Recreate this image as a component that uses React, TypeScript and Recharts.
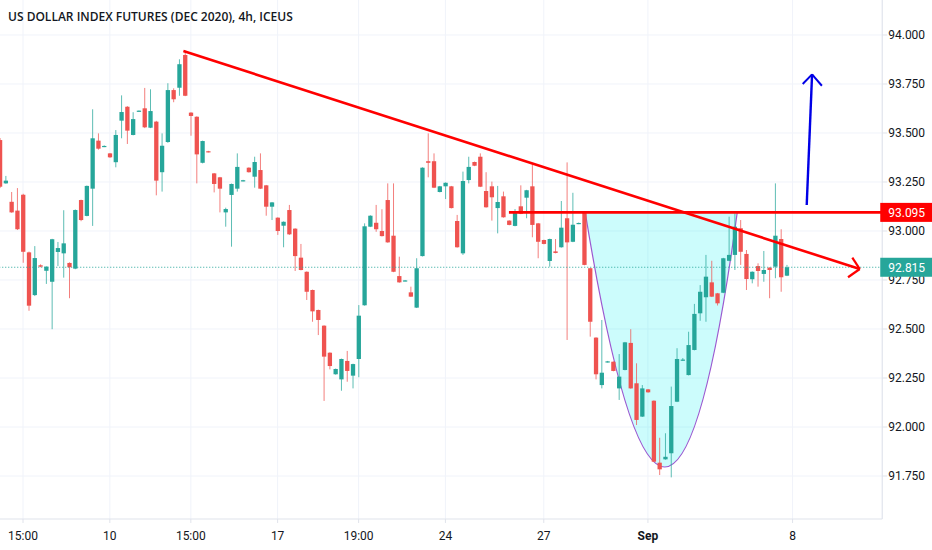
import React from 'react';
import {
  ComposedChart,
  Bar,
  XAxis,
  YAxis,
  CartesianGrid,
  ReferenceLine,
  ReferenceArea,
} from 'recharts';

// ---------- data ----------
const opens = [
  93.464, 93.243, 93.149, 93.104, 93.185, 92.891, 92.673, 92.825, 92.797, 92.741,
  92.893, 92.886, 92.837, 92.808, 93.158, 93.077, 93.216, 93.461, 93.430, 93.396,
  93.351, 93.563, 93.634, 93.490, 93.610, 93.626, 93.527, 93.558, 93.300, 93.454,
  93.719, 93.731, 93.898, 93.604, 93.583, 93.348, 93.407, 93.294, 93.274, 93.095,
  93.184, 93.216, 93.255, 93.323, 93.277, 93.311, 93.233, 93.124, 93.068, 93.027,
  93.107, 93.012, 92.864, 92.792, 92.699, 92.597, 92.517, 92.379, 92.269, 92.243,
  92.337, 92.262, 92.347, 92.621, 93.022, 93.042, 93.000, 93.158, 92.976, 92.770,
  92.745, 92.687, 92.609, 92.872, 93.356, 93.356, 93.199, 93.228, 93.228, 93.051,
  92.886, 93.260, 93.352, 93.379, 93.204, 93.228, 93.117, 93.177, 93.053, 93.026,
  93.126, 93.170, 93.228, 93.039, 92.954, 92.847, 92.896, 92.917, 93.065, 92.945,
  93.037, 93.095, 92.810, 92.456, 92.214, 92.331, 92.333, 92.197, 92.291, 92.429,
  92.223, 92.053, 92.192, 92.134, 91.818, 91.835, 91.866, 92.129, 92.340, 92.265,
  92.393, 92.580, 92.662, 92.738, 92.682, 92.685, 92.848, 92.878, 93.014, 92.883,
  92.754, 92.821, 92.781, 92.813, 92.818, 92.959, 92.772,
];
const highs = [
  93.474, 93.281, 93.199, 93.219, 93.190, 92.895, 92.923, 92.830, 92.820, 92.960,
  92.944, 93.106, 92.840, 93.110, 93.160, 93.232, 93.621, 93.498, 93.437, 93.398,
  93.515, 93.692, 93.637, 93.606, 93.615, 93.730, 93.723, 93.562, 93.498, 93.754,
  93.728, 93.876, 93.920, 93.606, 93.585, 93.461, 93.409, 93.296, 93.276, 93.119,
  93.242, 93.396, 93.261, 93.325, 93.379, 93.396, 93.235, 93.148, 93.070, 93.049,
  93.133, 93.014, 92.934, 92.794, 92.701, 92.599, 92.519, 92.381, 92.298, 92.349,
  92.388, 92.323, 92.622, 93.039, 93.080, 93.133, 93.111, 93.243, 93.243, 92.869,
  92.750, 92.716, 92.861, 93.325, 93.498, 93.396, 93.230, 93.248, 93.230, 93.082,
  93.303, 93.379, 93.354, 93.396, 93.300, 93.252, 93.230, 93.201, 93.055, 93.112,
  93.233, 93.210, 93.340, 93.041, 92.956, 92.961, 92.959, 93.153, 93.350, 93.195,
  93.043, 93.098, 92.812, 92.458, 92.546, 92.337, 92.335, 92.372, 92.434, 92.499,
  92.325, 92.214, 92.194, 92.136, 91.945, 91.968, 92.206, 92.402, 92.352, 92.486,
  92.628, 92.724, 92.878, 92.848, 92.684, 92.863, 93.073, 93.090, 93.056, 92.903,
  92.794, 92.835, 92.898, 92.815, 93.243, 93.009, 92.827,
];
const lows = [
  93.219, 93.241, 93.093, 93.005, 92.838, 92.593, 92.668, 92.815, 92.730, 92.499,
  92.821, 92.762, 92.657, 92.805, 93.050, 93.075, 93.026, 93.415, 93.428, 93.373,
  93.325, 93.473, 93.444, 93.488, 93.609, 93.525, 93.525, 93.182, 93.201, 93.450,
  93.657, 93.690, 93.688, 93.486, 93.243, 93.345, 93.401, 93.197, 93.095, 93.022,
  92.920, 93.201, 93.253, 93.298, 93.221, 93.214, 93.078, 93.056, 92.980, 92.917,
  92.980, 92.796, 92.799, 92.648, 92.537, 92.469, 92.133, 92.294, 92.267, 92.185,
  92.231, 92.197, 92.254, 92.619, 93.020, 92.996, 92.972, 92.940, 92.790, 92.736,
  92.743, 92.663, 92.607, 92.870, 93.274, 93.219, 93.197, 93.163, 93.115, 92.915,
  92.878, 93.243, 93.331, 93.224, 93.119, 93.053, 92.988, 93.068, 93.029, 93.024,
  93.086, 93.065, 92.968, 92.861, 92.932, 92.818, 92.886, 92.915, 92.444, 92.943,
  93.035, 92.825, 92.461, 92.243, 92.197, 92.329, 92.284, 92.138, 92.289, 92.195,
  92.010, 92.051, 92.175, 91.821, 91.755, 91.833, 91.743, 92.127, 92.338, 92.263,
  92.391, 92.542, 92.537, 92.663, 92.620, 92.683, 92.846, 92.801, 92.827, 92.699,
  92.733, 92.716, 92.741, 92.657, 92.759, 92.690, 92.770,
];
const closes = [
  93.226, 93.257, 93.095, 93.009, 92.894, 92.619, 92.862, 92.818, 92.818, 92.958,
  92.913, 92.937, 92.815, 93.107, 93.056, 93.230, 93.473, 93.420, 93.434, 93.376,
  93.490, 93.607, 93.512, 93.571, 93.614, 93.529, 93.612, 93.257, 93.435, 93.719,
  93.672, 93.851, 93.690, 93.587, 93.391, 93.459, 93.403, 93.240, 93.216, 93.112,
  93.240, 93.327, 93.259, 93.300, 93.352, 93.216, 93.124, 93.146, 93.000, 93.047,
  92.983, 92.872, 92.801, 92.690, 92.590, 92.546, 92.359, 92.311, 92.296, 92.347,
  92.286, 92.321, 92.568, 93.024, 93.078, 93.009, 92.974, 92.942, 92.792, 92.738,
  92.748, 92.665, 92.810, 93.323, 93.348, 93.221, 93.228, 93.246, 93.117, 92.917,
  93.255, 93.327, 93.333, 93.226, 93.121, 93.172, 93.148, 93.070, 93.031, 93.092,
  93.088, 93.208, 93.031, 92.945, 92.934, 92.959, 92.888, 93.017, 92.942, 93.032,
  93.041, 92.827, 92.537, 92.269, 92.277, 92.335, 92.286, 92.257, 92.432, 92.197,
  92.036, 92.197, 92.177, 91.823, 91.784, 91.848, 92.107, 92.347, 92.344, 92.418,
  92.577, 92.690, 92.767, 92.665, 92.631, 92.861, 92.878, 93.022, 92.894, 92.755,
  92.792, 92.796, 92.801, 92.801, 92.976, 92.764, 92.815,
];

const SLOT_COUNT = 153; // candles + empty future slots
const timeTickIndexes = [4, 19, 33, 48, 62, 77, 94, 112, 137];
const timeTickLabels = ['15:00', '10', '15:00', '17', '19:00', '24', '27', 'Sep', '8'];
const priceTicks = [91.75, 92, 92.25, 92.5, 92.75, 93, 93.25, 93.5, 93.75, 94];
const priceDomain = [91.5306, 94.1786];
const lastPrice = 92.815;
const necklinePrice = 93.095;
const necklineStart = 87.9;
const trendLine = [
  { x: 32, y: 93.918 },
  { x: 148.14, y: 92.806 },
];
const trendArrowArms = [
  { x: 146.86, y: 92.864 },
  { x: 146.12, y: 92.764 },
];
const breakoutArrow = [
  { x: 139.03, y: 93.133 },
  { x: 139.95, y: 93.799 },
];
const breakoutArrowArms = [
  { x: 138.34, y: 93.75 },
  { x: 141.63, y: 93.741 },
];
const cupSpan = { x1: 101, x2: 127.1, bottom: 91.796, rim: 93.095, controlFrac: 0.546 };

const title = 'US DOLLAR INDEX FUTURES (DEC 2020), 4h, ICEUS';

// ---------- styling ----------
const UP = '#26a69a';
const DOWN = '#ef5350';
const GRID = '#f0f3fa';
const AXIS = '#e0e3eb';
const TEXT = '#131722';
const FONT = 'Roboto, "Open Sans", sans-serif';

// chart geometry (page offsets)
const SLOT_W = 5.786;
const FIRST_CENTER = -0.44;
const CHART_LEFT = FIRST_CENTER - SLOT_W / 2;
const PLOT_W = SLOT_W * SLOT_COUNT;
const CHART_W = 932 - CHART_LEFT;
const Y_AXIS_W = CHART_W - PLOT_W;

const data = Array.from({ length: SLOT_COUNT }, (_, i) =>
  i < opens.length
    ? { i, range: [lows[i], highs[i]], o: opens[i], h: highs[i], l: lows[i], c: closes[i] }
    : { i, range: null }
);

const Candle = (props: any) => {
  const { x, y, width, height, payload } = props;
  if (!payload || payload.o == null || height == null || isNaN(y)) return null;
  const top = Math.min(y, y + height);
  const bot = Math.max(y, y + height);
  const ppu = (bot - top) / (payload.h - payload.l);
  const cx = x + width / 2;
  const yOf = (v: number) => top + (payload.h - v) * ppu;
  const up = payload.c >= payload.o;
  const color = up ? UP : DOWN;
  const bTop = yOf(Math.max(payload.o, payload.c));
  const bBot = yOf(Math.min(payload.o, payload.c));
  const bh = Math.max(1.2, bBot - bTop);
  return (
    <g>
      <line x1={cx} x2={cx} y1={top} y2={bot} stroke={color} strokeWidth={1} strokeOpacity={0.75} />
      <rect x={cx - 2.15} y={bTop} width={4.3} height={bh} fill={color} />
    </g>
  );
};

const TimeTick = (props: any) => {
  const { x, y, payload } = props;
  const k = timeTickIndexes.indexOf(payload.value);
  const label = k >= 0 ? timeTickLabels[k] : '';
  return (
    <text
      x={x}
      y={y}
      dy="0.71em"
      textAnchor="middle"
      fill={TEXT}
      fontSize={12}
      fontFamily={FONT}
      fontWeight={label === 'Sep' ? 700 : 400}
    >
      {label}
    </text>
  );
};

const PriceTick = (props: any) => {
  const { x, y, payload } = props;
  const v = payload.value;
  const isLast = Math.abs(v - lastPrice) < 1e-9;
  const isNeck = Math.abs(v - necklinePrice) < 1e-9;
  if (isLast || isNeck) {
    return (
      <g>
        <rect x={x - 8} y={y - 9.5} width={60} height={19} fill={isLast ? UP : '#ff0000'} />
        <text x={x} y={y} dy="0.355em" fill="#ffffff" fontSize={12} fontFamily={FONT}>
          {v.toFixed(3)}
        </text>
      </g>
    );
  }
  return (
    <text x={x} y={y} dy="0.355em" fill={TEXT} fontSize={12} fontFamily={FONT}>
      {v.toFixed(3)}
    </text>
  );
};

const CupShape = (props: any) => {
  const { x, y, width, height } = props;
  if (x == null || isNaN(x)) return null;
  const cx = x + width * cupSpan.controlFrac;
  const cy = y + 2 * height;
  const curve = `M${x},${y} Q${cx},${cy} ${x + width},${y}`;
  return (
    <g>
      <path d={curve + ' Z'} fill="rgb(0,240,240)" fillOpacity={0.2} stroke="none" />
      <path d={curve} fill="none" stroke="#9b59d0" strokeWidth={1.2} />
    </g>
  );
};

export default function App() {
  return (
    <div
      style={{
        position: 'absolute',
        left: 0,
        top: 0,
        width: 932,
        height: 550,
        overflow: 'hidden',
        background: '#ffffff',
      }}
    >
      <div style={{ position: 'absolute', left: CHART_LEFT, top: 0 }}>
        <ComposedChart
          width={CHART_W}
          height={550}
          data={data}
          margin={{ top: 0, right: 0, bottom: 0, left: 0 }}
        >
          <CartesianGrid stroke={GRID} horizontalValues={priceTicks} />
          <XAxis
            dataKey="i"
            type="category"
            ticks={timeTickIndexes}
            interval={0}
            height={31}
            tick={<TimeTick />}
            tickSize={4}
            tickMargin={8}
            axisLine={{ stroke: AXIS }}
            tickLine={{ stroke: AXIS }}
          />
          <XAxis
            xAxisId="num"
            type="number"
            domain={[-0.5, SLOT_COUNT - 0.5]}
            allowDataOverflow
            hide
          />
          <YAxis
            orientation="right"
            type="number"
            width={Y_AXIS_W}
            domain={priceDomain}
            allowDataOverflow
            ticks={[...priceTicks, necklinePrice, lastPrice]}
            interval={0}
            tick={<PriceTick />}
            tickSize={5}
            tickMargin={1}
            axisLine={{ stroke: AXIS }}
            tickLine={{ stroke: AXIS }}
          />
          <ReferenceArea
            xAxisId="num"
            x1={cupSpan.x1}
            x2={cupSpan.x2}
            y1={cupSpan.bottom}
            y2={cupSpan.rim}
            ifOverflow="visible"
            shape={<CupShape />}
          />
          <ReferenceLine
            y={lastPrice}
            stroke={UP}
            strokeDasharray="1 2"
            strokeWidth={1}
          />
          <Bar dataKey="range" shape={(p: any) => <Candle {...p} />} isAnimationActive={false} />
          <ReferenceLine
            xAxisId="num"
            segment={[
              { x: necklineStart, y: necklinePrice },
              { x: SLOT_COUNT - 0.5, y: necklinePrice },
            ]}
            stroke="#ff0000"
            strokeWidth={2.6}
            ifOverflow="visible"
          />
          <ReferenceLine
            xAxisId="num"
            segment={trendLine}
            stroke="#ff0000"
            strokeWidth={2.6}
            ifOverflow="visible"
          />
          <ReferenceLine
            xAxisId="num"
            segment={[trendArrowArms[0], trendLine[1]]}
            stroke="#ff0000"
            strokeWidth={2.2}
            ifOverflow="visible"
          />
          <ReferenceLine
            xAxisId="num"
            segment={[trendLine[1], trendArrowArms[1]]}
            stroke="#ff0000"
            strokeWidth={2.2}
            ifOverflow="visible"
          />
          <ReferenceLine
            xAxisId="num"
            segment={breakoutArrow}
            stroke="#0000e6"
            strokeWidth={2.4}
            ifOverflow="visible"
          />
          <ReferenceLine
            xAxisId="num"
            segment={[breakoutArrowArms[0], breakoutArrow[1]]}
            stroke="#0000e6"
            strokeWidth={2}
            ifOverflow="visible"
          />
          <ReferenceLine
            xAxisId="num"
            segment={[breakoutArrow[1], breakoutArrowArms[1]]}
            stroke="#0000e6"
            strokeWidth={2}
            ifOverflow="visible"
          />
        </ComposedChart>
      </div>
      <div
        style={{
          position: 'absolute',
          left: 8,
          top: 9,
          fontFamily: '"Open Sans", sans-serif',
          fontWeight: 600,
          fontSize: 12,
          lineHeight: '16px',
          color: TEXT,
          whiteSpace: 'nowrap',
        }}
      >
        {title}
      </div>
    </div>
  );
}
